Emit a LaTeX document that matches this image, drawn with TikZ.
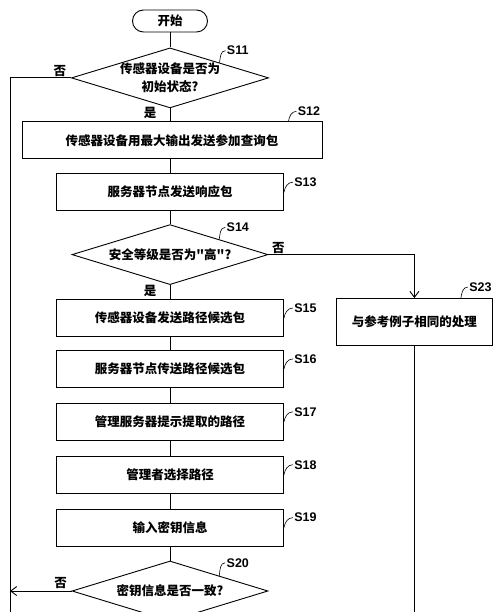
\documentclass[tikz,border=0pt]{standalone}
\usepackage{fontspec}
\setmainfont{Liberation Sans}
\newfontfamily\cjk{Noto Sans CJK SC}
\usetikzlibrary{arrows.meta,positioning,shapes.geometric}

\begin{document}
\begin{tikzpicture}[
    node distance=14pt,
    >={Straight Barb[length=6pt,width=9pt]},
    line width=0.9pt,
    font=\cjk\bfseries\fontsize{12.5}{17.5}\selectfont,
    proc/.style={
		rectangle,
		draw=black,
		text centered,
		minimum width=227pt,
		minimum height=37pt
	},
    decision/.style={
		diamond,
		draw=black,
		aspect=3.3,
		inner sep=0pt,
		align=center,
		minimum width=196pt,
		minimum height=60pt
	},
    startstop/.style={
		rectangle,
		rounded corners=11pt,
		draw=black,
		minimum width=75pt,
		minimum height=22pt
	},
    steplbl/.style={
		font=\bfseries\fontsize{12.5}{12.5}\selectfont,
		inner sep=1pt,
		anchor=west
	},
    tick/.style={
		line width=0.6pt
	},
    yesno/.style={
		inner sep=1pt
	}
  ]
  \clip (-170pt,21pt) rectangle (330pt,-591pt);

  % main column
  \node [startstop] (start) {开始};
  \node [decision, below=15pt of start] (s11) {传感器设备是否为\\初始状态?};
  \node [proc, below=13pt of s11, xshift=2pt, minimum width=300pt] (s12) {传感器设备用最大输出发送参加查询包};
  \node [proc, below=14pt of s12, xshift=-2pt] (s13) {服务器节点发送响应包};
  \node [decision, below=13pt of s13] (s14) {安全等级是否为"高"?};
  \node [proc, below=14pt of s14] (s15) {传感器设备发送路径候选包};
  \node [proc, below=13pt of s15] (s16) {服务器节点传送路径候选包};
  \node [proc, below=15pt of s16] (s17) {管理服务器提示提取的路径};
  \node [proc, below=15pt of s17] (s18) {管理者选择路径};
  \node [proc, below=15pt of s18] (s19) {输入密钥信息};
  \node [decision, below=14pt of s19] (s20) {密钥信息是否一致?};

  % side branch
  \node [proc, minimum width=156pt, minimum height=47pt, anchor=north west]
    (s23) at ([xshift=52pt,yshift=1pt]s15.north east) {与参考例子相同的处理};

  % step labels
  \node [steplbl] (l11) at ([xshift=6pt,yshift=12pt]s11.north east) {S11};
  \node [steplbl] (l12) at ([xshift=-26pt,yshift=10pt]s12.north east) {S12};
  \node [steplbl] (l13) at ([xshift=9pt,yshift=10pt]s13.east) {S13};
  \node [steplbl] (l14) at ([xshift=6pt,yshift=12pt]s14.north east) {S14};
  \node [steplbl] (l15) at ([xshift=9pt,yshift=10pt]s15.east) {S15};
  \node [steplbl] (l16) at ([xshift=9pt,yshift=10pt]s16.east) {S16};
  \node [steplbl] (l17) at ([xshift=9pt,yshift=10pt]s17.east) {S17};
  \node [steplbl] (l18) at ([xshift=9pt,yshift=10pt]s18.east) {S18};
  \node [steplbl] (l19) at ([xshift=9pt,yshift=10pt]s19.east) {S19};
  \node [steplbl] (l20) at ([xshift=6pt,yshift=13pt]s20.north east) {S20};
  \node [steplbl] (l23) at ([xshift=-25pt,yshift=11pt]s23.north east) {S23};

  \draw [tick] (s11.north east) to[out=80,in=180] (l11.west);
  \draw [tick] ([xshift=-34pt]s12.north east) to[out=80,in=180] (l12.west);
  \draw [tick] (s13.east) to[out=80,in=180] (l13.west);
  \draw [tick] (s14.north east) to[out=80,in=180] (l14.west);
  \draw [tick] (s15.east) to[out=80,in=180] (l15.west);
  \draw [tick] (s16.east) to[out=80,in=180] (l16.west);
  \draw [tick] (s17.east) to[out=80,in=180] (l17.west);
  \draw [tick] (s18.east) to[out=80,in=180] (l18.west);
  \draw [tick] (s19.east) to[out=80,in=180] (l19.west);
  \draw [tick] (s20.north east) to[out=80,in=180] (l20.west);
  \draw [tick] ([xshift=-32pt]s23.north east) to[out=80,in=180] (l23.west);

  % yes / no
  \node [yesno] (y11) at ([xshift=-20pt,yshift=-5pt]s11.south) {是};
  \node [yesno] (n11) at ([xshift=-11pt,yshift=7pt]s11.west) {否};
  \node [yesno] (y14) at ([xshift=-20pt,yshift=-6pt]s14.south) {是};
  \node [yesno] (n14) at ([xshift=10pt,yshift=7pt]s14.east) {否};
  \node [yesno] (n20) at ([xshift=-11pt,yshift=8pt]s20.west) {否};

  \coordinate (lbot) at (-160pt,-591pt);
  \coordinate (rbot) at (s23.south |- lbot);

  % connectors
  \draw (start) -- (s11);
  \draw (s11.south) -- (s11.south |- s12.north);
  \draw (s13.north |- s12.south) -- (s13.north);
  \draw (s13) -- (s14);
  \draw (s14) -- (s15);
  \draw (s15) -- (s16);
  \draw (s16) -- (s17);
  \draw (s17) -- (s18);
  \draw (s18) -- (s19);
  \draw (s19) -- (s20);
  \draw [->] (s14.east) -| (s23.north);
  \draw (s23.south) -- (rbot);
  \draw (s11.west) -| (lbot);
  \draw [->] (s20.west) -- (s20.west -| lbot);

\end{tikzpicture}
\end{document}
